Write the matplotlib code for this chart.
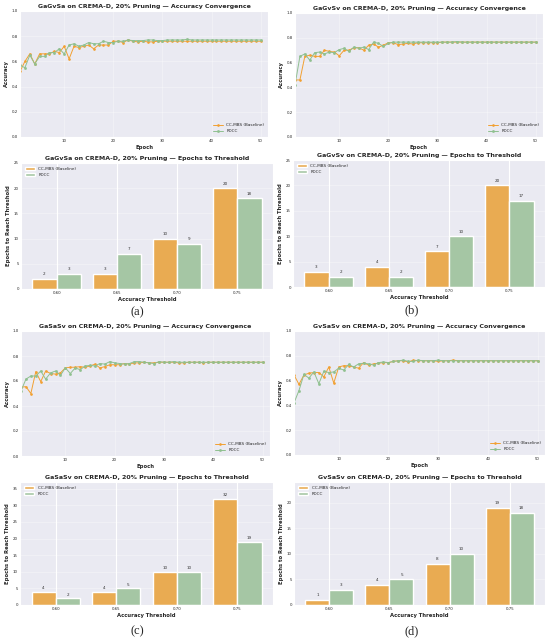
import numpy as np
import matplotlib
matplotlib.use('Agg')
import matplotlib.pyplot as plt
import seaborn as sns

sns.set_style('darkgrid')
plt.rcParams['font.family'] = ['DejaVu Sans']

epochs = np.arange(1, 51)

# Curvas de acurácia
a_ccmbs = [0.52, 0.60, 0.66, 0.58, 0.66, 0.66, 0.66, 0.68, 0.67, 0.72,
           0.62, 0.72, 0.71, 0.72, 0.73, 0.70, 0.73, 0.73, 0.73, 0.76,
           0.76, 0.75, 0.77, 0.76, 0.755, 0.76, 0.755, 0.755, 0.76, 0.76,
           0.76, 0.76, 0.76, 0.76, 0.76, 0.76, 0.76, 0.76, 0.76, 0.76,
           0.76, 0.76, 0.76, 0.76, 0.76, 0.76, 0.76, 0.76, 0.76, 0.76]
a_pdcc = [0.57, 0.55, 0.65, 0.58, 0.64, 0.64, 0.67, 0.67, 0.70, 0.66,
          0.73, 0.74, 0.72, 0.73, 0.75, 0.74, 0.74, 0.76, 0.75, 0.75,
          0.76, 0.76, 0.77, 0.765, 0.765, 0.765, 0.77, 0.77, 0.765, 0.765,
          0.77, 0.77, 0.77, 0.77, 0.775, 0.77, 0.77, 0.77, 0.77, 0.77,
          0.77, 0.77, 0.77, 0.77, 0.77, 0.77, 0.77, 0.77, 0.77, 0.77]

b_ccmbs = [0.46, 0.46, 0.65, 0.66, 0.65, 0.65, 0.70, 0.69, 0.685, 0.655,
           0.70, 0.70, 0.72, 0.72, 0.70, 0.74, 0.75, 0.725, 0.74, 0.76,
           0.76, 0.745, 0.75, 0.755, 0.75, 0.76, 0.76, 0.76, 0.76, 0.76,
           0.765, 0.765, 0.765, 0.765, 0.765, 0.765, 0.765, 0.765, 0.765, 0.765,
           0.765, 0.765, 0.765, 0.765, 0.765, 0.765, 0.765, 0.765, 0.765, 0.765]
b_pdcc = [0.42, 0.65, 0.67, 0.62, 0.68, 0.685, 0.67, 0.685, 0.68, 0.705,
          0.715, 0.69, 0.725, 0.715, 0.725, 0.705, 0.765, 0.755, 0.73, 0.755,
          0.765, 0.765, 0.765, 0.765, 0.765, 0.765, 0.765, 0.765, 0.765, 0.765,
          0.765, 0.765, 0.765, 0.77, 0.765, 0.765, 0.765, 0.765, 0.765, 0.765,
          0.765, 0.765, 0.765, 0.765, 0.765, 0.765, 0.765, 0.765, 0.765, 0.765]

c_ccmbs = [0.55, 0.555, 0.50, 0.675, 0.595, 0.68, 0.66, 0.655, 0.665, 0.705,
           0.71, 0.71, 0.715, 0.71, 0.72, 0.735, 0.705, 0.715, 0.73, 0.73,
           0.73, 0.74, 0.735, 0.745, 0.745, 0.75, 0.745, 0.745, 0.75, 0.75,
           0.75, 0.75, 0.745, 0.745, 0.75, 0.75, 0.75, 0.745, 0.75, 0.75,
           0.75, 0.75, 0.75, 0.75, 0.75, 0.75, 0.75, 0.75, 0.75, 0.75]
c_pdcc = [0.52, 0.615, 0.64, 0.64, 0.68, 0.615, 0.665, 0.68, 0.645, 0.705,
          0.66, 0.705, 0.69, 0.72, 0.725, 0.72, 0.74, 0.735, 0.755, 0.745,
          0.74, 0.735, 0.74, 0.755, 0.755, 0.75, 0.745, 0.74, 0.755, 0.75,
          0.75, 0.755, 0.75, 0.75, 0.75, 0.75, 0.75, 0.75, 0.75, 0.75,
          0.75, 0.75, 0.75, 0.75, 0.75, 0.75, 0.75, 0.75, 0.75, 0.75]

d_ccmbs = [0.645, 0.57, 0.645, 0.66, 0.665, 0.665, 0.63, 0.71, 0.58, 0.71,
           0.72, 0.72, 0.71, 0.70, 0.745, 0.725, 0.735, 0.74, 0.745, 0.745,
           0.755, 0.76, 0.76, 0.75, 0.765, 0.76, 0.76, 0.76, 0.76, 0.755,
           0.76, 0.76, 0.765, 0.76, 0.76, 0.76, 0.76, 0.76, 0.76, 0.76,
           0.76, 0.76, 0.76, 0.76, 0.76, 0.76, 0.76, 0.76, 0.76, 0.76]
d_pdcc = [0.42, 0.52, 0.65, 0.62, 0.67, 0.575, 0.675, 0.665, 0.67, 0.70,
          0.685, 0.73, 0.71, 0.735, 0.74, 0.735, 0.725, 0.745, 0.75, 0.745,
          0.755, 0.76, 0.765, 0.755, 0.755, 0.765, 0.76, 0.76, 0.76, 0.765,
          0.76, 0.76, 0.76, 0.76, 0.76, 0.76, 0.76, 0.76, 0.76, 0.76,
          0.76, 0.76, 0.76, 0.76, 0.76, 0.76, 0.76, 0.76, 0.76, 0.76]

# Épocas para atingir cada limiar
thresholds = ['0.60', '0.65', '0.70', '0.75']
a_bar_ccmbs = [2, 3, 10, 20]
a_bar_pdcc = [3, 7, 9, 18]
b_bar_ccmbs = [3, 4, 7, 20]
b_bar_pdcc = [2, 2, 10, 17]
c_bar_ccmbs = [4, 4, 10, 32]
c_bar_pdcc = [2, 5, 10, 19]
d_bar_ccmbs = [1, 4, 8, 19]
d_bar_pdcc = [3, 5, 10, 18]

names = ['GaGvSa', 'GaGvSv', 'GaSaSv', 'GvSaSv']
letters = ['(a)', '(b)', '(c)', '(d)']

line_data = [(a_ccmbs, a_pdcc), (b_ccmbs, b_pdcc), (c_ccmbs, c_pdcc), (d_ccmbs, d_pdcc)]
bar_data = [(a_bar_ccmbs, a_bar_pdcc), (b_bar_ccmbs, b_bar_pdcc),
            (c_bar_ccmbs, c_bar_pdcc), (d_bar_ccmbs, d_bar_pdcc)]

# caixas em pixels: (esquerda, direita, topo, base)
W, H = 550, 641
line_boxes = [(20, 268, 11, 137), (295, 543, 13, 137), (21, 270, 331, 456), (294, 545, 331, 455)]
bar_boxes = [(21, 273, 163, 289), (293, 545, 160, 287), (20, 273, 482, 605), (294, 545, 482, 605)]
letter_pos = [(137, 312), (412, 310), (137, 631), (412, 631)]

orange_line = '#F2A031'
green_line = '#8FC08F'
orange_bar = '#E9AB52'
green_bar = '#A5C6A4'

title_fs = 4.5
label_fs = 3.8
tick_fs = 2.8
legend_fs = 3.0


def box_to_rect(b):
    l, r, t, bt = b
    return [l / W, 1 - bt / H, (r - l) / W, (bt - t) / H]


fig = plt.figure(figsize=(5.5, 6.41), dpi=100)

for i in range(4):
    # gráfico de convergência
    ax = fig.add_axes(box_to_rect(line_boxes[i]))
    cc, pd_ = line_data[i]
    ax.plot(epochs, cc, color=orange_line, marker='o', markersize=0.9, linewidth=0.7,
            label='CC-MBS (Baseline)')
    ax.plot(epochs, pd_, color=green_line, marker='s', markersize=0.9, linewidth=0.7,
            label='PDCC')
    ax.set_xlim(1, 51.5)
    ax.set_ylim(0, 1.0)
    ax.set_xticks([10, 20, 30, 40, 50])
    ax.set_yticks([0.0, 0.2, 0.4, 0.6, 0.8, 1.0])
    ax.tick_params(labelsize=tick_fs, pad=1.5, length=0)
    ax.set_title(f'{names[i]} on CREMA-D, 20% Pruning — Accuracy Convergence',
                 fontsize=title_fs, fontweight='bold', pad=2.5)
    ax.set_xlabel('Epoch', fontsize=label_fs, fontweight='bold', labelpad=1.5)
    ax.set_ylabel('Accuracy', fontsize=label_fs, fontweight='bold', labelpad=2)
    ax.grid(True, alpha=0.3)
    ax.legend(loc='lower right', fontsize=legend_fs, frameon=False, handlelength=2.5)

    # gráfico de barras
    bx = fig.add_axes(box_to_rect(bar_boxes[i]))
    bcc, bpd = bar_data[i]
    x = np.arange(len(thresholds))
    w = 0.4
    r1 = bx.bar(x - w / 2, bcc, w, color=orange_bar, label='CC-MBS (Baseline)')
    r2 = bx.bar(x + w / 2, bpd, w, color=green_bar, label='PDCC')
    for rects in (r1, r2):
        for rect in rects:
            bx.text(rect.get_x() + rect.get_width() / 2, rect.get_height() + 0.5,
                    f'{int(rect.get_height())}', ha='center', va='bottom',
                    fontsize=legend_fs, color='#333333')
    bx.set_xticks(x)
    bx.set_xticklabels(thresholds)
    bx.set_ylim(0, max(max(bcc), max(bpd)) + 5)
    bx.tick_params(labelsize=tick_fs, pad=1.5, length=0)
    bx.set_title(f'{names[i]} on CREMA-D, 20% Pruning — Epochs to Threshold',
                 fontsize=title_fs, fontweight='bold', pad=2.5)
    bx.set_xlabel('Accuracy Threshold', fontsize=label_fs, fontweight='bold', labelpad=1.5)
    bx.set_ylabel('Epochs to Reach Threshold', fontsize=label_fs, fontweight='bold', labelpad=2)
    bx.grid(True, axis='y', alpha=0.3)
    bx.legend(loc='upper left', fontsize=legend_fs, frameon=False, handlelength=2.5)

    lx, ly = letter_pos[i]
    fig.text(lx / W, 1 - ly / H, letters[i], ha='center', va='center',
             fontsize=9, family='Liberation Serif')

plt.savefig('out.png', dpi=100)
